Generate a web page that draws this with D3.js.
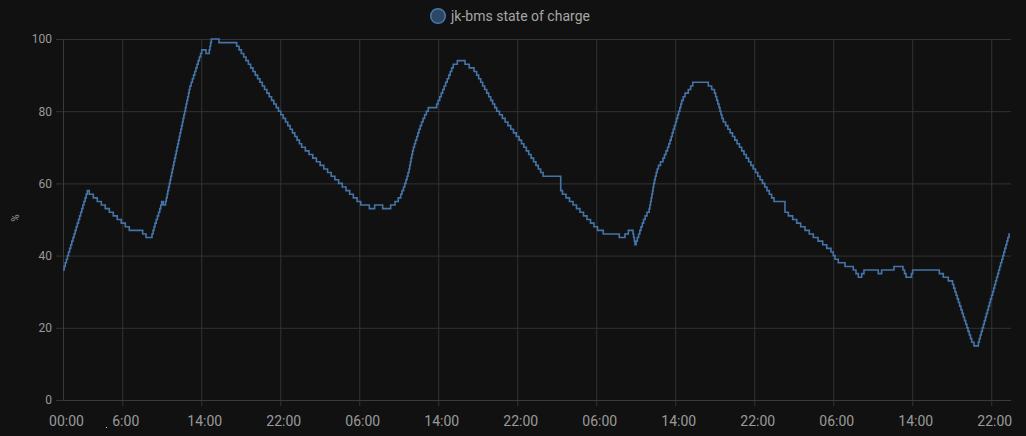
<!DOCTYPE html>
<html><head><meta charset="utf-8">
<script src="https://cdn.jsdelivr.net/npm/d3@7"></script>
<style>
html,body{margin:0;padding:0;background:#111111;}
svg{display:block;font-family:Roboto,"Noto Sans",sans-serif;}
</style></head>
<body><svg id="c" width="1026" height="436"></svg>
<script>
// ---- data (hours since start, state of charge %) ----
const hours = [0,0.11,0.22,0.34,0.45,0.56,0.67,0.78,0.89,1.01,1.12,1.23,1.34,1.45,1.57,1.68,1.79,1.90,2.01,2.12,2.24,2.35,2.46,
2.66,3.07,3.47,3.88,4.28,4.69,5.09,5.49,5.90,6.31,6.71,8.07,8.41,
9.01,9.12,9.22,9.32,9.44,9.56,9.68,9.80,9.90,9.99,10.16,10.38,
10.46,10.54,10.61,10.69,10.77,10.85,10.92,11.00,11.08,11.16,11.23,11.31,11.39,11.47,11.54,11.62,11.70,11.78,11.85,11.93,12.01,12.09,12.16,12.24,12.32,12.40,12.47,12.55,12.63,12.71,12.78,12.86,
12.98,13.10,13.22,13.34,13.46,13.57,13.69,13.81,13.93,14.05,14.48,14.81,14.88,14.95,15.02,15.80,
17.59,17.83,18.06,18.30,18.53,18.77,19.00,19.24,19.47,19.71,19.94,20.18,20.41,20.65,20.88,21.12,21.35,21.59,21.82,22.06,22.29,22.53,22.76,23.00,23.23,23.47,23.70,23.94,24.17,
24.54,24.91,25.29,25.66,26.04,26.41,26.79,27.16,27.53,27.91,28.28,28.66,29.03,29.40,29.78,30.15,
31.02,31.56,32.37,33.18,33.62,33.95,34.20,34.33,34.48,34.61,34.73,34.84,34.94,35.04,35.11,35.18,35.25,35.32,35.40,35.48,35.59,35.70,35.82,35.94,36.05,36.18,36.31,36.46,36.62,36.80,36.99,
37.84,37.99,38.15,38.30,38.45,38.60,38.75,38.91,39.06,39.21,39.36,39.52,39.93,40.71,41.14,41.62,41.89,
42.09,42.30,42.50,42.70,42.91,43.11,43.31,43.51,43.72,43.92,44.20,44.49,44.77,45.05,45.34,45.62,45.90,46.19,46.43,46.67,46.92,47.16,47.40,47.65,47.89,48.13,48.37,48.62,
50.40,50.58,50.94,51.29,51.65,52.00,52.35,52.71,53.06,53.42,53.77,54.13,54.71,56.33,56.91,57.25,57.72,57.79,57.86,57.92,
58.04,58.16,58.29,58.41,58.53,58.66,58.79,58.95,59.14,59.36,59.43,59.50,59.57,59.63,59.70,59.76,59.82,59.90,59.98,60.07,60.17,60.30,60.51,60.76,60.91,61.06,61.22,61.35,61.47,61.59,61.70,61.80,61.91,62.03,62.13,62.24,62.34,62.46,62.56,62.65,62.81,62.99,63.32,63.56,63.77,
65.35,65.69,65.97,66.09,66.20,66.31,66.43,66.53,66.63,66.73,66.87,67.10,67.33,67.56,67.80,68.03,68.26,68.50,68.73,68.96,69.19,69.43,69.66,69.89,70.13,70.36,70.59,70.83,71.06,71.29,71.52,71.76,72.00,
73.11,73.45,73.89,74.30,74.70,75.14,75.57,75.98,76.46,76.93,77.34,77.77,78.00,78.18,78.51,79.19,80.03,80.30,80.54,80.88,81.11,82.56,82.90,84.15,85.06,85.22,85.37,85.92,86.04,88.74,89.14,89.65,
90.08,90.20,90.32,90.44,90.56,90.68,90.80,90.93,91.05,91.17,91.29,91.41,91.53,91.65,91.78,91.90,92.02,92.25,
92.69,92.79,92.89,92.99,93.10,93.21,93.30,93.41,93.51,93.62,93.72,93.82,93.92,94.03,94.14,94.24,94.34,94.44,94.54,94.65,94.75,94.85,94.95,95.07,95.17,95.27,95.37,95.48,95.58,95.68,95.80,95.90];
const soc = [36,37,38,39,40,41,42,43,44,45,46,47,48,49,50,51,52,53,54,55,56,57,58,
57,56,55,54,53,52,51,50,49,48,47,46,45,
46,47,48,49,50,51,52,53,54,55,54,55,
56,57,58,59,60,61,62,63,64,65,66,67,68,69,70,71,72,73,74,75,76,77,78,79,80,81,82,83,84,85,86,87,
88,89,90,91,92,93,94,95,96,97,96,97,98,99,100,99,
98,97,96,95,94,93,92,91,90,89,88,87,86,85,84,83,82,81,80,79,78,77,76,75,74,73,72,71,70,
69,68,67,66,65,64,63,62,61,60,59,58,57,56,55,54,
53,54,53,54,55,56,57,58,59,60,61,62,63,64,65,66,67,68,69,70,71,72,73,74,75,76,77,78,79,80,81,
82,83,84,85,86,87,88,89,90,91,92,93,94,93,92,91,90,
89,88,87,86,85,84,83,82,81,80,79,78,77,76,75,74,73,72,71,70,69,68,67,66,65,64,63,62,
58,57,56,55,54,53,52,51,50,49,48,47,46,45,46,47,46,45,44,43,
44,45,46,47,48,49,50,51,52,53,54,55,56,57,58,59,60,61,62,63,64,65,66,67,68,69,70,71,72,73,74,75,76,77,78,79,80,81,82,83,84,85,86,87,88,
87,86,85,84,83,82,81,80,79,78,77,76,75,74,73,72,71,70,69,68,67,66,65,64,63,62,61,60,59,58,57,56,55,
52,51,50,49,48,47,46,45,44,43,42,41,40,39,38,37,36,35,34,35,36,35,36,37,36,35,34,35,36,35,34,33,
32,31,30,29,28,27,26,25,24,23,22,21,20,19,18,17,16,15,
16,17,18,19,20,21,22,23,24,25,26,27,28,29,30,31,32,33,34,35,36,37,38,39,40,41,42,43,44,45,46,46];
const xTickHours = [0,6,14,22,30,38,46,54,62,70,78,86,94];
const xTickLabels = ["00:00","6:00","14:00","22:00","06:00","14:00","22:00","06:00","14:00","22:00","06:00","14:00","22:00"];
const yTicks = [0,20,40,60,80,100];
const seriesName = "jk-bms state of charge";
const unitLabel = "%";

// ---- chart ----
const svg = d3.select("#c");
const L = 63, R = 1011, T = 39, B = 400;
const x = d3.scaleLinear().domain([0,96]).range([L,R]);
const y = d3.scaleLinear().domain([0,100]).range([B,T]);
const gridColor = "#333333";
const textColor = "#9a9a9a";

svg.append("rect").attr("width",1026).attr("height",436).attr("fill","#111111");

// y axis + horizontal grid
const ya = svg.append("g").attr("transform",`translate(${L},0)`)
  .call(d3.axisLeft(y).tickValues(yTicks).tickSize(7).tickPadding(4));
ya.select(".domain").remove();
ya.selectAll(".tick line").attr("x1",R-L).attr("x2",-7).attr("stroke",gridColor);
ya.selectAll(".tick text").attr("fill",textColor).attr("font-size",12)
  .attr("font-family","Roboto,sans-serif").attr("x",-11);

// x axis + vertical grid
const xa = svg.append("g").attr("transform",`translate(0,${B})`)
  .call(d3.axisBottom(x).tickValues(xTickHours).tickFormat((d,i)=>xTickLabels[i]).tickSize(6).tickPadding(10));
xa.select(".domain").remove();
xa.selectAll(".tick line").attr("y1",d=>d===0?0:6).attr("y2",-(B-T)).attr("stroke",gridColor);
xa.selectAll(".tick text").attr("fill",textColor).attr("font-size",14)
  .attr("font-family","Roboto,sans-serif").attr("dx",3).attr("y",16);
// base axis line
svg.append("line").attr("x1",L).attr("x2",R).attr("y1",B+0.5).attr("y2",B+0.5).attr("stroke","#3a3a3a");
svg.append("line").attr("x1",L+0.5).attr("x2",L+0.5).attr("y1",T).attr("y2",B).attr("stroke","#3a3a3a");

// unit label
svg.append("text").attr("transform","translate(19,218) rotate(-90)")
  .attr("text-anchor","middle").attr("fill",textColor).attr("font-size",10).text(unitLabel);

// series
const pts = hours.map((h,i)=>[h,soc[i]]);
const line = d3.line().x(d=>x(d[0])).y(d=>y(d[1])).curve(d3.curveStepAfter);
svg.append("path").datum(pts).attr("d",line).attr("fill","none")
  .attr("stroke","#4574a9").attr("stroke-width",1.6).attr("stroke-linejoin","miter");

// legend
svg.append("circle").attr("cx",438).attr("cy",16).attr("r",7.3)
  .attr("fill","#2b4766").attr("stroke","#4a78aa").attr("stroke-width",1.5);
svg.append("text").attr("x",451).attr("y",16).attr("dy","0.35em").attr("fill","#a6a6a6")
  .attr("font-size",14).text(seriesName);

// small stray dot below axis
svg.append("rect").attr("x",106).attr("y",427).attr("width",1).attr("height",1).attr("fill","#cfcfcf");
</script></body></html>
